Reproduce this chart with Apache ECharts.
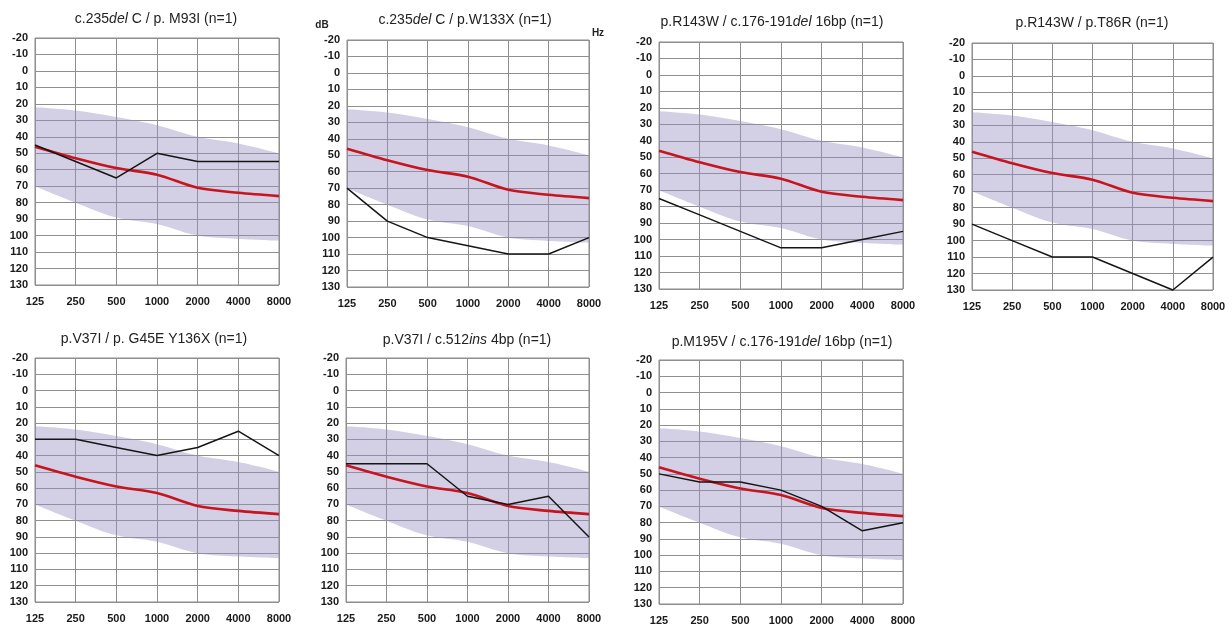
<!DOCTYPE html>
<html>
<head>
<meta charset="utf-8">
<script src="https://cdn.jsdelivr.net/npm/echarts@6/dist/echarts.min.js"></script>
<style>
html,body{margin:0;padding:0;background:#fff;}
#c{width:1232px;height:627px;}
</style>
</head>
<body>
<div id="c"></div>
<script>
// ---- data ----
var freqs = ['125', '250', '500', '1000', '2000', '4000', '8000'];
var yTicks = [-20, 130, 10]; // min, max, step (dB HL, inverted)
var meanCurve = [46, 53, 59, 63, 71, 74, 76];
var bandUpper = [22, 24, 28, 33, 40, 44, 50];
var bandLower = [70, 80, 89, 93, 100, 102, 103];

var titles = [
  [['c.235', 0], ['del', 1], [' C / p. M93I (n=1)', 0]],
  [['c.235', 0], ['del', 1], [' C / p.W133X (n=1)', 0]],
  [['p.R143W / c.176-191', 0], ['del', 1], [' 16bp (n=1)', 0]],
  [['p.R143W / p.T86R (n=1)', 0]],
  [['p.V37I / p. G45E Y136X (n=1)', 0]],
  [['p.V37I / c.512', 0], ['ins', 1], [' 4bp (n=1)', 0]],
  [['p.M195V / c.176-191', 0], ['del', 1], [' 16bp (n=1)', 0]]
];
var patient1 = [45, 55, 65, 50, 55, 55, 55];
var patient2 = [70, 90, 100, 105, 110, 110, 100];
var patient3 = [75, 85, 95, 105, 105, 100, 95];
var patient4 = [90, 100, 110, 110, 120, 130, 110];
var patient5 = [30, 30, 35, 40, 35, 25, 40];
var patient6 = [45, 45, 45, 65, 70, 65, 90];
var patient7 = [50, 55, 55, 60, 70, 85, 80];
var patients = [patient1, patient2, patient3, patient4, patient5, patient6, patient7];

// ---- layout ----
var grids = [
  {left: 35, top: 38, width: 244, height: 247},
  {left: 347, top: 40, width: 242, height: 247},
  {left: 659, top: 42, width: 244, height: 247},
  {left: 972, top: 43, width: 241, height: 247},
  {left: 35, top: 358, width: 244, height: 244},
  {left: 346, top: 358, width: 243, height: 244},
  {left: 659, top: 360, width: 244, height: 244}
];
var titlePos = [[156, 19], [465, 20], [772, 22], [1092, 23], [154, 339], [467, 340], [782, 342]];

var FONT = '"Liberation Sans", Arial, Helvetica, sans-serif';
var option = {
  animation: false,
  backgroundColor: '#fff',
  grid: [], xAxis: [], yAxis: [], series: [], graphic: []
};

grids.forEach(function (g, i) {
  option.grid.push({left: g.left, top: g.top, width: g.width, height: g.height,
    show: true, borderColor: '#8a8a8a', borderWidth: 1, containLabel: false});
  option.xAxis.push({type: 'category', gridIndex: i, data: freqs, boundaryGap: false,
    axisLine: {show: false}, axisTick: {show: false},
    axisLabel: {color: '#1a1a1a', fontWeight: 'bold', fontSize: 11, fontFamily: FONT, margin: 11, interval: 0},
    splitLine: {show: true, lineStyle: {color: '#8f8f8f', width: 1}}});
  option.yAxis.push({type: 'value', gridIndex: i, inverse: true, min: yTicks[0], max: yTicks[1], interval: yTicks[2],
    axisLine: {show: false}, axisTick: {show: false},
    axisLabel: {color: '#1a1a1a', fontWeight: 'bold', fontSize: 11, fontFamily: FONT, margin: 7},
    splitLine: {show: true, lineStyle: {color: '#8f8f8f', width: 1}}});
  var diff = bandLower.map(function (v, k) { return v - bandUpper[k]; });
  option.series.push({type: 'line', xAxisIndex: i, yAxisIndex: i, stack: 'band' + i, data: bandUpper,
    symbol: 'none', smooth: 0.4, lineStyle: {width: 0, opacity: 0}, silent: true, z: 1});
  option.series.push({type: 'line', xAxisIndex: i, yAxisIndex: i, stack: 'band' + i, data: diff,
    symbol: 'none', smooth: 0.4, lineStyle: {width: 0, opacity: 0},
    areaStyle: {color: 'rgba(150,140,190,0.42)', opacity: 1}, silent: true, z: 1});
  option.series.push({type: 'line', xAxisIndex: i, yAxisIndex: i, data: meanCurve,
    symbol: 'none', smooth: 0.3, lineStyle: {color: '#c8141e', width: 2.6}, z: 3});
  option.series.push({type: 'line', xAxisIndex: i, yAxisIndex: i, data: patients[i],
    symbol: 'none', lineStyle: {color: '#151515', width: 1.5}, clip: false, z: 4});

  var txt = '', rich = {
    n: {fontSize: 14, fontFamily: FONT, color: '#222'},
    it: {fontSize: 14, fontFamily: FONT, color: '#222', fontStyle: 'italic'}
  };
  titles[i].forEach(function (seg) {
    txt += '{' + (seg[1] ? 'it' : 'n') + '|' + seg[0] + '}';
  });
  option.graphic.push({type: 'text', x: titlePos[i][0], y: titlePos[i][1],
    style: {text: txt, rich: rich, align: 'center', verticalAlign: 'middle', font: '14px ' + FONT, fill: '#222'}});
});

option.graphic.push({type: 'text', x: 322, y: 25,
  style: {text: 'dB', align: 'center', verticalAlign: 'middle', font: 'bold 10px ' + FONT, fill: '#222'}});
option.graphic.push({type: 'text', x: 598, y: 33,
  style: {text: 'Hz', align: 'center', verticalAlign: 'middle', font: 'bold 10px ' + FONT, fill: '#222'}});

var chart = echarts.init(document.getElementById('c'), null, {renderer: 'canvas'});
chart.setOption(option);
</script>
</body>
</html>
